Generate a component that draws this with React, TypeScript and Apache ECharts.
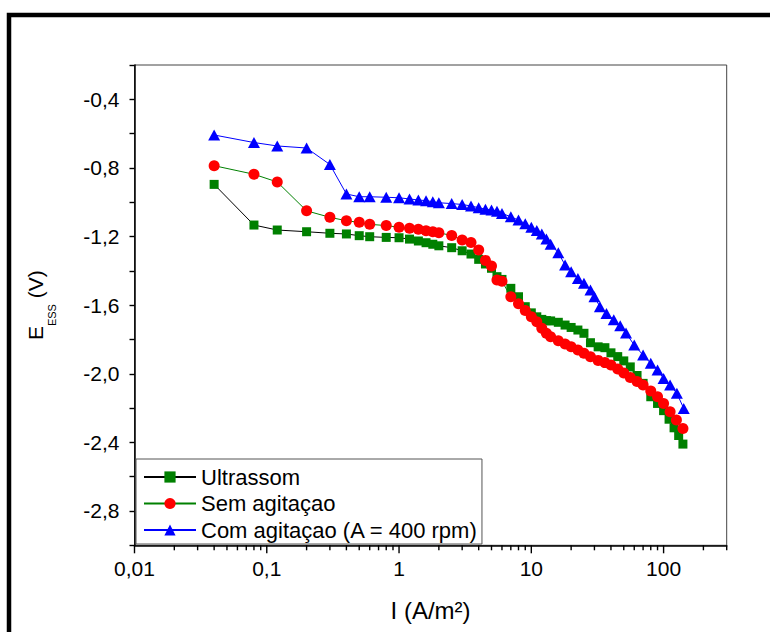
import React, { useEffect, useRef } from "react";
import * as echarts from "echarts";

// ---- Data ----
const seriesNames = ["Ultrassom", "Sem agitaçao", "Com agitaçao (A = 400 rpm)"];

const iUltrassom = [0.04, 0.08, 0.12, 0.2, 0.3, 0.4, 0.5, 0.6, 0.8, 1.0, 1.2, 1.4, 1.6, 1.8, 2.0, 2.5, 3.0, 3.5, 4.0, 4.5, 5.0, 5.5, 6.0, 7, 8, 9, 10, 11, 12, 13, 14, 16, 18, 20, 22.5, 25, 28, 32, 36, 40, 45, 50, 56, 63, 70, 80, 90, 100, 110, 120, 130, 140];
const eUltrassom = [-0.896, -1.133, -1.162, -1.172, -1.181, -1.185, -1.195, -1.201, -1.205,
  -1.207, -1.215, -1.226, -1.236, -1.245,
  -1.254, -1.265, -1.283, -1.302, -1.333, -1.360, -1.385, -1.434, -1.450,
  -1.502, -1.551, -1.609,
  -1.645, -1.668, -1.683, -1.690, -1.692,
  -1.700, -1.716, -1.730, -1.745, -1.764, -1.819,
  -1.843, -1.848, -1.878, -1.900, -1.925, -1.960, -2.010,
  -2.056, -2.134, -2.173, -2.215, -2.265, -2.315, -2.360, -2.410];

const iSem = [0.04, 0.08, 0.12, 0.2, 0.3, 0.4, 0.5, 0.6, 0.8, 1.0, 1.2, 1.4, 1.6, 1.8, 2.0, 2.5, 3.0, 3.5, 4.0, 4.5, 5.0, 5.5, 6.0, 7, 8, 9, 10, 11, 12, 13, 14, 16, 18, 20, 22.5, 25, 28, 32, 36, 40, 45, 50, 56, 63, 70, 80, 90, 100, 112, 125, 140];
const eSem = [-0.787, -0.837, -0.882, -1.050, -1.088, -1.108, -1.117, -1.129, -1.136,
  -1.146, -1.152, -1.158, -1.166, -1.172,
  -1.178, -1.194, -1.220, -1.235, -1.279, -1.339, -1.372, -1.454, -1.461,
  -1.551, -1.592, -1.631,
  -1.668, -1.697, -1.735, -1.764, -1.784,
  -1.808, -1.827, -1.843, -1.862, -1.881, -1.901,
  -1.922, -1.935, -1.949, -1.972, -1.995, -2.022, -2.045,
  -2.066, -2.100, -2.134, -2.173, -2.222, -2.270, -2.319];

const iCom = [0.04, 0.08, 0.12, 0.2, 0.3, 0.4, 0.5, 0.6, 0.8, 1.0, 1.2, 1.4, 1.6, 1.8, 2.0, 2.5, 3.0, 3.5, 4.0, 4.5, 5.0, 5.5, 6.0, 7, 8, 9, 10, 11, 12, 13, 14, 16, 18, 20, 22.5, 25, 28, 30, 33, 37, 42, 47, 52, 60, 70, 80, 90, 100, 112, 126, 142];
const eCom = [-0.608, -0.652, -0.672, -0.684, -0.780, -0.952, -0.968, -0.968, -0.971,
  -0.974, -0.981, -0.987, -0.991, -0.997,
  -1.003, -1.008, -1.013, -1.022, -1.032, -1.041, -1.045, -1.052, -1.065,
  -1.085, -1.104, -1.125,
  -1.146, -1.165, -1.185, -1.215, -1.245,
  -1.295, -1.366, -1.405, -1.444, -1.473, -1.512,
  -1.551, -1.609, -1.648, -1.685, -1.720, -1.763,
  -1.833, -1.891, -1.939, -1.978, -2.027, -2.066, -2.114, -2.202];

// Axis ticks
const xMin = 0.01;
const xMax = 300;
const yMin = -3.0;
const yMax = -0.2;
const yInterval = 0.2;
const xMajorTicks = [0.01, 0.1, 1, 10, 100];
const xMinorTicks = [0.02, 0.03, 0.04, 0.05, 0.06, 0.07, 0.08, 0.09,
  0.2, 0.3, 0.4, 0.5, 0.6, 0.7, 0.8, 0.9,
  2, 3, 4, 5, 6, 7, 8, 9,
  20, 30, 40, 50, 60, 70, 80, 90,
  200, 300];
const xTickLabels = ["0,01", "0,1", "1", "10", "100"];
const yTickLabels = ["-0,4", "-0,8", "-1,2", "-1,6", "-2,0", "-2,4", "-2,8"];

const FONT = "'Liberation Sans', Arial, Helvetica, sans-serif";

function pairs(xs: number[], ys: number[]) {
  return xs.map((x, i) => [x, ys[i]]);
}

function tickSeries(values: number[], len: number) {
  return {
    type: "custom",
    silent: true,
    clip: false,
    z: 5,
    data: values.map((v) => [v, yMin]),
    encode: { x: 0, y: 1 },
    renderItem: (_params: any, api: any) => {
      const p = api.coord([api.value(0), yMin]);
      return {
        type: "line",
        shape: { x1: p[0], y1: p[1], x2: p[0], y2: p[1] + len },
        style: { stroke: "#000", lineWidth: 1.4 },
      };
    },
  };
}

export default function App() {
  const ref = useRef<HTMLDivElement>(null);

  useEffect(() => {
    if (!ref.current) return;
    const chart = echarts.init(ref.current, null, { renderer: "svg" });
    const option: any = {
      animation: false,
      backgroundColor: "#fff",
      textStyle: { fontFamily: FONT, color: "#000" },
      graphic: [
        {
          type: "rect",
          silent: true,
          z: 0,
          shape: { x: 9, y: 15, width: 800, height: 700 },
          style: { fill: "transparent", stroke: "#000", lineWidth: 4.5 },
        },
      ],
      grid: {
        left: 134.5,
        top: 65,
        right: 43.3,
        bottom: 86.7,
        show: true,
        borderColor: "#444",
        borderWidth: 1,
        backgroundColor: "transparent",
      },
      legend: {
        show: true,
        data: seriesNames,
        orient: "vertical",
        left: 136,
        top: 459,
        itemWidth: 52,
        itemHeight: 14,
        itemGap: 4.5,
        padding: [7, 4, 3, 7],
        borderColor: "#555",
        borderWidth: 1,
        backgroundColor: "#fff",
        textStyle: { fontFamily: FONT, fontSize: 22, color: "#000", lineHeight: 22 },
      },
      xAxis: {
        type: "log",
        logBase: 10,
        min: xMin,
        max: xMax,
        name: "I (A/m²)",
        nameLocation: "middle",
        nameGap: 53,
        nameTextStyle: { fontFamily: FONT, fontSize: 24, color: "#000" },
        axisLine: { onZero: false, lineStyle: { color: "#000", width: 1.5 } },
        axisTick: { show: false },
        minorTick: { show: false },
        splitLine: { show: false },
        axisLabel: {
          fontFamily: FONT,
          fontSize: 21,
          color: "#000",
          margin: 13,
          formatter: (v: number) => {
            const idx = xMajorTicks.findIndex((t) => Math.abs(Math.log10(t) - Math.log10(v)) < 1e-6);
            return idx >= 0 ? xTickLabels[idx] : "";
          },
        },
      },
      yAxis: {
        type: "value",
        min: yMin,
        max: yMax,
        interval: yInterval,
        name: "{a|E}{b|ESS}{a| (V)}",
        nameLocation: "middle",
        nameGap: 77,
        nameRotate: 90,
        nameTextStyle: {
          fontFamily: FONT,
          color: "#000",
          rich: {
            a: { fontFamily: FONT, fontSize: 21, color: "#000", padding: [0, 0, 12, 0], verticalAlign: "top" },
            b: { fontFamily: FONT, fontSize: 11, color: "#000", verticalAlign: "bottom" },
          },
        },
        axisLine: { onZero: false, lineStyle: { color: "#000", width: 1.5 } },
        axisTick: { show: true, inside: false, length: 5, lineStyle: { color: "#000", width: 1.4 } },
        splitLine: { show: false },
        axisLabel: {
          fontFamily: FONT,
          fontSize: 21,
          color: "#000",
          margin: 15,
          formatter: (v: number) => {
            const label = v.toFixed(1).replace(".", ",");
            return yTickLabels.indexOf(label) >= 0 ? label : "";
          },
        },
      },
      series: [
        {
          name: seriesNames[0],
          type: "line",
          data: pairs(iUltrassom, eUltrassom),
          symbol: "rect",
          symbolSize: 9,
          showSymbol: true,
          showAllSymbol: true,
          lineStyle: { color: "#000", width: 1 },
          itemStyle: { color: "#008000" },
          z: 10,
        },
        {
          name: seriesNames[1],
          type: "line",
          data: pairs(iSem, eSem),
          symbol: "circle",
          symbolSize: 11,
          showSymbol: true,
          showAllSymbol: true,
          lineStyle: { color: "#008000", width: 1 },
          itemStyle: { color: "#ff0000" },
          z: 11,
        },
        {
          name: seriesNames[2],
          type: "line",
          data: pairs(iCom, eCom),
          symbol: "triangle",
          symbolSize: [12, 11],
          showSymbol: true,
          showAllSymbol: true,
          lineStyle: { color: "#0000ff", width: 1 },
          itemStyle: { color: "#0000ff" },
          z: 12,
        },
        tickSeries(xMajorTicks, 8),
        tickSeries(xMinorTicks, 5),
      ],
    };
    chart.setOption(option);
    return () => chart.dispose();
  }, []);

  return (
    <div
      ref={ref}
      style={{ position: "fixed", left: 0, top: 0, width: 770, height: 632, background: "#fff" }}
    />
  );
}
